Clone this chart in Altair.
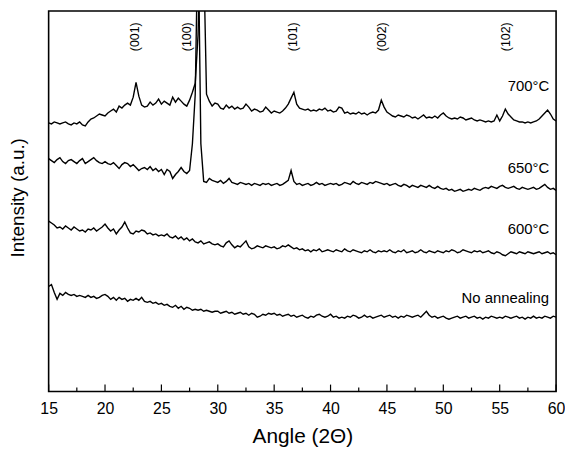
import altair as alt
import pandas as pd

# ---- data ----
angle_start = 15.0
angle_step = 0.25

no_annealing = [
    106, 108, 100, 93, 99, 97, 100, 98, 97, 98, 96, 97, 96, 95, 97, 95, 96, 94, 95, 97,
    98, 96, 93, 95, 92, 95, 93, 94, 91, 93, 92, 94, 92, 95, 91, 90, 91, 89, 90, 88,
    89, 87, 88, 86, 85, 87, 84, 86, 83, 85, 84, 82, 83, 82, 83, 81, 82, 81, 80, 81,
    81, 79, 80, 81, 79, 80, 78, 79, 80, 78, 79, 77, 79, 78, 75, 76, 78, 77, 79, 78,
    79, 77, 78, 76, 77, 78, 76, 77, 75, 76, 77, 75, 74, 76, 75, 77, 78, 76, 75, 76,
    78, 75, 76, 74, 75, 74, 76, 75, 77, 76, 74, 75, 77, 75, 76, 74, 75, 76, 77, 75,
    76, 77, 75, 76, 74, 76, 75, 77, 76, 75, 76, 77, 75, 78, 81, 77, 75, 76, 74, 75,
    76, 74, 73, 74, 75, 76, 74, 75, 76, 74, 75, 76, 74, 75, 73, 75, 74, 76, 75, 74,
    75, 74, 76, 75, 74, 75, 76, 74, 75, 73, 75, 74, 76, 74, 75, 74, 76, 75, 74, 76,
    75,
]

t600 = [
    172, 170, 168, 165, 166, 164, 167, 165, 163, 166, 164, 162, 163, 161, 164, 163, 165, 162, 164, 166,
    169, 165, 162, 164, 159, 163, 166, 171, 165, 160, 159, 162, 161, 163, 162, 159, 160, 158, 159, 157,
    158, 157, 159, 156, 155, 157, 154, 156, 153, 155, 152, 154, 151, 150, 152, 149, 150, 151, 149, 148,
    149, 147, 146, 150, 152, 148, 145, 147, 146, 149, 152, 146, 144, 145, 147, 146, 145, 147, 146, 145,
    146, 144, 145, 147, 146, 148, 146, 144, 145, 143, 144, 142, 143, 141, 143, 142, 144, 141, 142, 143,
    142, 141, 143, 142, 141, 144, 142, 141, 143, 142, 141, 140, 142, 141, 143, 141, 140, 142, 141, 142,
    141, 143, 141, 140, 142, 141, 143, 140, 141, 142, 140, 141, 143, 141, 140, 142, 141, 140, 142, 141,
    140, 142, 141, 143, 142, 140, 141, 143, 142, 141, 140, 142, 141, 142, 140, 141, 142, 140, 139, 141,
    140, 138, 137, 139, 141, 140, 139, 141, 140, 139, 141, 140, 139, 140, 141, 139, 140, 141, 139, 140,
    138,
]

t650 = [
    235, 233, 231, 234, 236, 232, 230, 233, 234, 232, 230, 233, 235, 230, 232, 234, 236, 233, 231, 230,
    232, 230, 229, 231, 228, 225, 229, 231, 230, 227, 229, 226, 223, 225, 226, 224, 227, 223, 225, 222,
    224, 219, 224, 222, 215, 219, 222, 226, 222, 220, 223, 250, 300, 470, 250, 212, 211, 215, 213, 212,
    211, 213, 210, 212, 215, 211, 210, 209, 211, 210, 209, 210, 208, 210, 209, 208, 210, 209, 210, 208,
    209, 210, 208, 209, 211, 213, 223, 212, 209, 210, 208, 209, 210, 208, 209, 211, 209, 210, 208, 209,
    210, 209, 210, 208, 209, 211, 210, 209, 212, 210, 209, 211, 210, 209, 211, 210, 212, 211, 210, 209,
    210, 208, 209, 210, 208, 207, 209, 208, 206, 208, 207, 206, 208, 207, 206, 208, 206, 205, 207, 205,
    204, 205, 203, 204, 202, 203, 204, 202, 203, 204, 203, 205, 204, 203, 205, 206, 205, 207, 206, 205,
    207, 208, 206, 205, 206, 207, 205, 204, 206, 205, 204, 205, 206, 204, 205, 207, 209, 206, 204, 205,
    203,
]

t700 = [
    271, 270, 272, 271, 270, 271, 272, 270, 269, 271, 270, 272, 269, 268, 272, 275, 276, 278, 280, 279,
    278, 281, 283, 285, 282, 288, 286, 289, 291, 289, 297, 312, 298, 289, 287, 288, 292, 289, 291, 295,
    290, 293, 291, 289, 297, 292, 296, 293, 290, 288, 294, 302, 311, 360, 470, 440, 300, 293, 288, 291,
    290, 286, 285, 289, 286, 288, 285, 287, 285, 286, 290, 287, 283, 285, 284, 282, 283, 287, 284, 281,
    283, 282, 281, 283, 286, 290, 296, 302, 290, 286, 285, 284, 285, 283, 284, 283, 285, 284, 286, 283,
    284, 282, 283, 287, 286, 281, 282, 280, 281, 280, 282, 280, 281, 279, 281, 282, 281, 284, 294, 287,
    282, 280, 278, 277, 279, 278, 277, 279, 278, 276, 277, 275, 277, 279, 276, 277, 276, 278, 276, 279,
    281, 278, 276, 275, 276, 275, 277, 276, 274, 275, 276, 274, 273, 274, 273, 272, 273, 272, 273, 279,
    273, 278, 285, 280, 277, 274, 273, 272, 272, 271, 272, 271, 272, 273, 275, 278, 281, 284, 280, 275,
    273,
]

series_names = ["No annealing", "600°C", "650°C", "700°C"]
series_values = [no_annealing, t600, t650, t700]

peak_labels = ["(001)", "(100)", "(101)", "(002)", "(102)"]
peak_angles = [22.7, 27.3, 36.7, 44.6, 55.6]

curve_labels = ["700°C", "650°C", "600°C", "No annealing"]
curve_label_level = [303, 220, 159, 89]

major_ticks = [15, 20, 25, 30, 35, 40, 45, 50, 55, 60]
minor_ticks = [17.5, 22.5, 27.5, 32.5, 37.5, 42.5, 47.5, 52.5, 57.5]

# ---- build tables ----
rows = []
for name, vals in zip(series_names, series_values):
    for i, v in enumerate(vals):
        rows.append({"angle": angle_start + angle_step * i, "intensity": v, "series": name})
df = pd.DataFrame(rows)

peaks_df = pd.DataFrame({"label": peak_labels, "angle": peak_angles})
curve_df = pd.DataFrame({"label": curve_labels, "level": curve_label_level})
major_df = pd.DataFrame({"angle": major_ticks})
minor_df = pd.DataFrame({"angle": minor_ticks})

FONT = "Liberation Sans"
PLOT_W = 512
PLOT_H = 384

x_scale = alt.Scale(domain=[15, 60], nice=False, zero=False)
y_scale = alt.Scale(domain=[0, 384], nice=False, zero=False)

x_axis = alt.Axis(
    values=major_ticks, format="d", grid=False, ticks=False, tickSize=0, domain=False,
    labelFont=FONT, labelFontSize=16, labelColor="black", labelPadding=9,
    labelFlush=False, labelOverlap=False,
    title="Angle (2Θ)", titleFont=FONT, titleFontSize=21, titleFontWeight="normal",
    titleColor="black", titleBaseline="middle", titleY=45,
)
y_axis = alt.Axis(
    labels=False, ticks=False, domain=False, grid=False,
    title="Intensity (a.u.)", titleFont=FONT, titleFontSize=19, titleFontWeight="normal",
    titleColor="black", titleAngle=270, titleAlign="center", titleBaseline="middle",
    titleX=-31, titleY=188,
)

lines = alt.Chart(df).mark_line(color="black", strokeWidth=1.4, clip=True).encode(
    x=alt.X("angle:Q", scale=x_scale, axis=x_axis),
    y=alt.Y("intensity:Q", scale=y_scale, axis=y_axis),
    detail="series:N",
    order="angle:Q",
)

peak_text = alt.Chart(peaks_df).mark_text(
    angle=270, align="center", baseline="middle", font=FONT, fontSize=12.5, color="black"
).encode(
    x=alt.X("angle:Q", scale=x_scale),
    y=alt.value(26),
    text="label:N",
)

curve_text = alt.Chart(curve_df).mark_text(
    align="right", baseline="alphabetic", font=FONT, fontSize=15, color="black"
).encode(
    x=alt.value(PLOT_W - 7),
    y=alt.Y("level:Q", scale=y_scale),
    text="label:N",
)

major_rules = alt.Chart(major_df).mark_rule(color="black", strokeWidth=1.2).encode(
    x=alt.X("angle:Q", scale=x_scale),
    y=alt.value(PLOT_H),
    y2=alt.value(PLOT_H - 7),
)

minor_rules = alt.Chart(minor_df).mark_rule(color="black", strokeWidth=1.2).encode(
    x=alt.X("angle:Q", scale=x_scale),
    y=alt.value(PLOT_H),
    y2=alt.value(PLOT_H - 4),
)

chart = alt.layer(lines, peak_text, curve_text, major_rules, minor_rules).properties(
    width=PLOT_W,
    height=PLOT_H,
    autosize=alt.AutoSizeParams(type="none"),
    padding={"left": 41, "top": 1, "right": 9, "bottom": 55},
).configure(
    background="white",
    view=alt.ViewConfig(stroke="black", strokeWidth=1.6),
)

chart.save("out.html", embed_options={"renderer": "svg", "actions": False})
